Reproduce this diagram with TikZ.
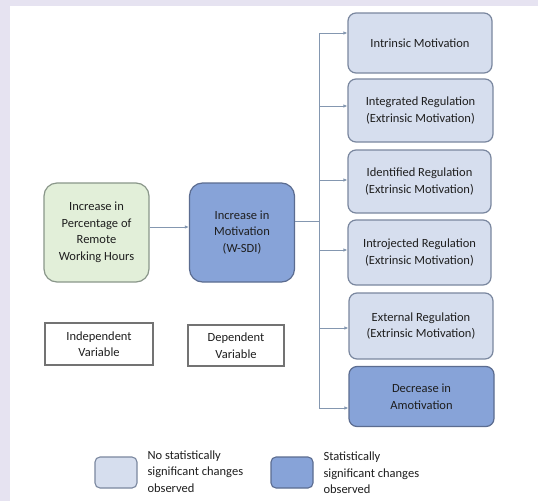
\documentclass[tikz,border=0pt]{standalone}
\usepackage{fontspec}
\setmainfont{Carlito}
\usetikzlibrary{arrows.meta}

\definecolor{frame}{HTML}{E6E3F1}
\definecolor{linkc}{HTML}{8497B0}
\definecolor{greenfill}{HTML}{E2EFD9}
\definecolor{greenline}{HTML}{8A978A}
\definecolor{lightfill}{HTML}{D6DEEE}
\definecolor{lightline}{HTML}{7A879F}
\definecolor{darkfill}{HTML}{87A3D8}
\definecolor{darkline}{HTML}{5B6C90}
\definecolor{txt}{HTML}{1E1E1E}

\tikzset{
  boxbase/.style={draw, line width=1.2pt, align=center, text=txt,
    font=\fontsize{12.5}{16.5}\selectfont, inner sep=1pt},
  outcome/.style={boxbase, rounded corners=8pt, fill=lightfill, draw=lightline},
  signif/.style={boxbase, rounded corners=8pt, fill=darkfill, draw=darkline},
  bigbox/.style={boxbase, rounded corners=13pt, minimum width=105pt, minimum height=99pt},
  keybox/.style={boxbase, draw=black!55, line width=1.2pt, fill=white},
  swatch/.style={draw, line width=1.1pt, rounded corners=5pt, minimum width=42pt, minimum height=31pt},
  keytext/.style={anchor=west, align=left, text=txt, font=\fontsize{12.5}{16.5}\selectfont},
  link/.style={draw=linkc, line width=0.9pt},
  arrowlink/.style={link, -{Latex[length=4pt,width=3.5pt]}}
}

\begin{document}
\begin{tikzpicture}[x=1pt,y=-1pt]
  % page frame
  \fill[frame] (0,0) rectangle (538,501);
  \fill[white] (10,6) rectangle (538,501);
  \useasboundingbox (0,0) rectangle (538,501);

  % predictor and mediator
  \node[bigbox, fill=greenfill, draw=greenline] (remote) at (96.5,232.5)
    {Increase in\\Percentage of\\Remote\\Working Hours};
  \node[bigbox, fill=darkfill, draw=darkline] (wsdi) at (242,232.5)
    {Increase in\\Motivation\\(W-SDI)};

  % outcome boxes
  \node[outcome, minimum width=144pt, minimum height=60pt] (intr) at (420,43) {Intrinsic Motivation};
  \node[outcome, minimum width=145pt, minimum height=63pt] (integ) at (420.5,110.5) {Integrated Regulation\\(Extrinsic Motivation)};
  \node[outcome, minimum width=143pt, minimum height=63pt] (ident) at (419.5,181.5) {Identified Regulation\\(Extrinsic Motivation)};
  \node[outcome, minimum width=143pt, minimum height=65pt] (introj) at (419.5,252.5) {Introjected Regulation\\(Extrinsic Motivation)};
  \node[outcome, minimum width=144pt, minimum height=66pt] (extern) at (421,326) {External Regulation\\(Extrinsic Motivation)};
  \node[signif, minimum width=145pt, minimum height=60pt] (amot) at (421.5,396.5) {Decrease in\\Amotivation};

  % variable labels
  \node[keybox, minimum width=108pt, minimum height=42pt] (indep) at (99,344) {Independent\\Variable};
  \node[keybox, minimum width=96pt, minimum height=41pt] (dep) at (236,345.5) {Dependent\\Variable};

  % legend
  \node[swatch, fill=lightfill, draw=lightline] (keylight) at (116,472.5) {};
  \node[keytext] (keylighttxt) at (144,471.5) {No statistically\\significant changes\\observed};
  \node[swatch, fill=darkfill, draw=darkline] (keydark) at (292,472.5) {};
  \node[keytext] (keydarktxt) at (320,473) {Statistically\\significant changes\\observed};

  % connectors
  \draw[arrowlink] ([yshift=5.5pt]remote.east) -- ([yshift=5.5pt]wsdi.west);
  \coordinate (split) at (319,221);
  \coordinate (t1) at (319,33);
  \coordinate (t2) at (319,106);
  \coordinate (t3) at (319,180);
  \coordinate (t4) at (319,250);
  \coordinate (t5) at (319,328);
  \coordinate (t6) at (319,408);
  \draw[link] (wsdi.east |- split) -- (split);
  \draw[link] (t1) -- (t6);
  \draw[arrowlink] (t1) -- (t1 -| intr.west);
  \draw[arrowlink] (t2) -- (t2 -| integ.west);
  \draw[arrowlink] (t3) -- (t3 -| ident.west);
  \draw[arrowlink] (t4) -- (t4 -| introj.west);
  \draw[arrowlink] (t5) -- (t5 -| extern.west);
  \draw[arrowlink] (t6) -- (t6 -| amot.west);
\end{tikzpicture}
\end{document}
